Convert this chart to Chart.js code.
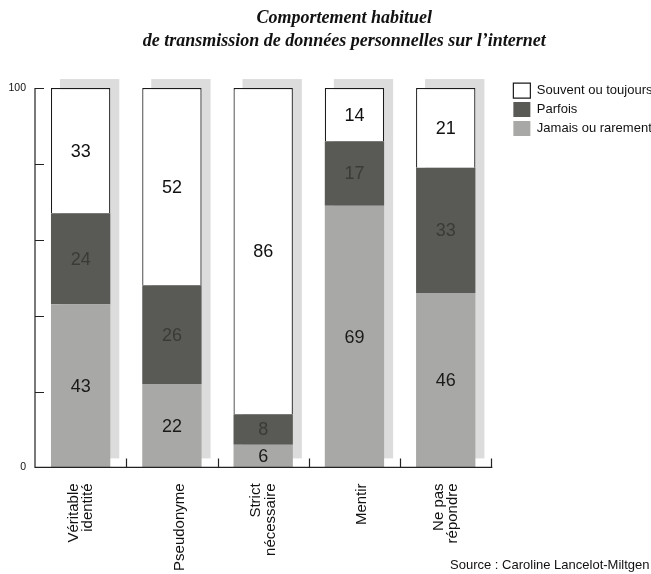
<!DOCTYPE html>
<html>
<head>
<meta charset="utf-8">
<script src="https://cdn.jsdelivr.net/npm/chart.js@4.4.0/dist/chart.umd.min.js"></script>
<style>
  html, body { margin: 0; padding: 0; background: #fff; }
</style>
</head>
<body>
<canvas id="chart" width="651" height="574"></canvas>
<script>
// données
const categories = [['Véritable', 'identité'], ['', 'Pseudonyme'], ['Strict', 'nécessaire'], ['', 'Mentir'], ['Ne pas', 'répondre']];
const souvent = [33, 52, 86, 14, 21];
const parfois = [24, 26, 8, 17, 33];
const jamais = [43, 22, 6, 69, 46];
const yLabelsShown = [0, 100];
const titleLines = ['Comportement habituel', 'de transmission de données personnelles sur l’internet'];
const sourceNote = 'Source : Caroline Lancelot-Miltgen';

const SANS = '"Liberation Sans", Arial, sans-serif';

// ombre grise décalée derrière chaque barre
const barShadow = {
  id: 'barShadow',
  beforeDatasetsDraw(chart) {
    const ctx = chart.ctx;
    const base = chart.scales.y.getPixelForValue(0);
    const tops = chart.getDatasetMeta(chart.data.datasets.length - 1).data;
    ctx.save();
    ctx.fillStyle = '#dcdcdc';
    tops.forEach(bar => {
      ctx.fillRect(bar.x - bar.width / 2 + 9, bar.y - 9, bar.width, base - bar.y);
    });
    ctx.restore();
  }
};

// axes avec graduations tournées vers l'intérieur
const insideTicks = {
  id: 'insideTicks',
  afterDatasetsDraw(chart) {
    const {ctx, chartArea: a, scales: {x, y}} = chart;
    ctx.save();
    ctx.strokeStyle = '#222';
    ctx.lineWidth = 1.2;
    ctx.beginPath();
    ctx.moveTo(a.left, a.top);
    ctx.lineTo(a.left, a.bottom);
    ctx.lineTo(a.right + 1, a.bottom);
    y.ticks.forEach(t => {
      const py = Math.round(y.getPixelForValue(t.value)) + 0.5;
      ctx.moveTo(a.left, py);
      ctx.lineTo(a.left + 9, py);
    });
    for (let i = 0; i < categories.length; i++) {
      const px = Math.round(x.getPixelForValue(i + 0.5)) + 0.5;
      ctx.moveTo(px, a.bottom);
      ctx.lineTo(px, a.bottom - 9);
    }
    ctx.stroke();
    ctx.restore();
  }
};

// valeurs au centre de chaque segment
const segmentValues = {
  id: 'segmentValues',
  afterDatasetsDraw(chart) {
    const ctx = chart.ctx;
    ctx.save();
    ctx.font = '18px ' + SANS;
    ctx.textAlign = 'center';
    ctx.textBaseline = 'middle';
    chart.data.datasets.forEach((ds, di) => {
      chart.getDatasetMeta(di).data.forEach((bar, i) => {
        ctx.fillStyle = ds.valueColor;
        ctx.fillText(String(ds.data[i]), bar.x, (bar.y + bar.base) / 2 + 1);
      });
    });
    ctx.restore();
  }
};

// petits recalages de la légende, du titre, des étiquettes et de la source
const nudge = {
  id: 'nudge',
  afterLayout(chart) {
    const lg = chart.legend;
    lg.left += 18;
    lg.right += 18;
    lg.top = chart.chartArea.top - 9;
    chart.titleBlock.left += 22;
    chart.titleBlock.right += 22;
    chart.scales.x.bottom += 20;
    chart.boxes.forEach(b => {
      if (b.options && b.options.text === sourceNote) { b.left += 5; b.right += 5; }
    });
  }
};

new Chart(document.getElementById('chart'), {
  type: 'bar',
  data: {
    labels: categories,
    datasets: [
      {
        label: 'Jamais ou rarement',
        data: jamais,
        backgroundColor: '#a8a8a6',
        borderWidth: 0,
        valueColor: '#1a1a1a'
      },
      {
        label: 'Parfois',
        data: parfois,
        backgroundColor: '#595955',
        borderWidth: 0,
        valueColor: '#3a3a37'
      },
      {
        label: 'Souvent ou toujours',
        data: souvent,
        backgroundColor: '#ffffff',
        borderColor: '#1a1a1a',
        borderWidth: 1.2,
        valueColor: '#111'
      }
    ]
  },
  options: {
    responsive: false,
    animation: false,
    layout: { padding: { right: 6.5 } },
    datasets: { bar: { categoryPercentage: 1, barPercentage: 0.65 } },
    scales: {
      x: {
        stacked: true,
        grid: { display: false, drawTicks: false },
        border: { display: false },
        afterFit: s => { s.height = 90; },
        ticks: {
          autoSkip: false,
          maxRotation: 90,
          minRotation: 90,
          padding: 16,
          labelOffset: -7,
          color: '#111',
          font: { family: SANS, size: 15, lineHeight: 0.97 }
        }
      },
      y: {
        stacked: true,
        min: 0,
        max: 100,
        grid: { display: false, drawTicks: false },
        border: { display: false },
        afterFit: s => { s.width = 35; },
        ticks: {
          stepSize: 20,
          padding: 9,
          color: '#111',
          font: { family: SANS, size: 10.5 },
          callback: v => yLabelsShown.includes(v) ? v : ''
        }
      }
    },
    plugins: {
      title: {
        display: true,
        text: titleLines,
        color: '#111',
        font: { family: '"Liberation Serif", serif', style: 'italic', weight: 'bold', size: 18, lineHeight: 1.28 },
        padding: { top: 7, bottom: 35 }
      },
      subtitle: {
        display: true,
        text: sourceNote,
        position: 'bottom',
        align: 'end',
        color: '#111',
        font: { family: SANS, size: 13, weight: 'normal' },
        padding: { top: 0, bottom: 1 }
      },
      legend: {
        position: 'right',
        align: 'start',
        reverse: true,
        labels: {
          boxWidth: 17,
          boxHeight: 15,
          padding: 4,
          color: '#111',
          font: { family: SANS, size: 13 }
        }
      },
      tooltip: { enabled: false }
    }
  },
  plugins: [barShadow, insideTicks, segmentValues, nudge]
});
</script>
</body>
</html>
